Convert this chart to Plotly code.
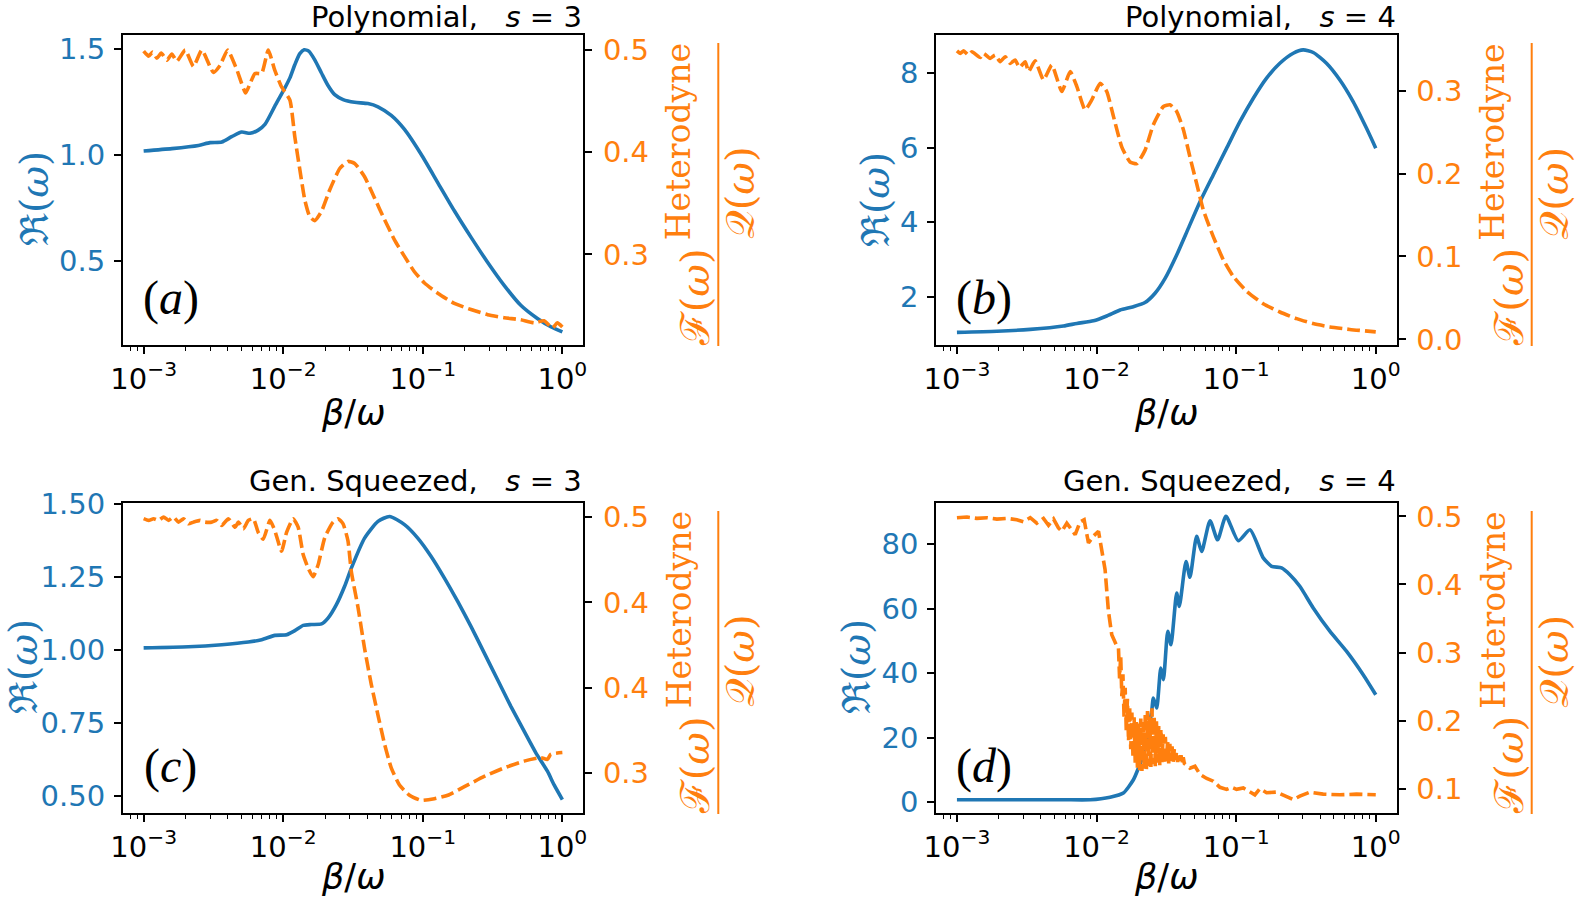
import numpy as np
import plotly.graph_objects as go

BLUE = "#1f77b4"
ORANGE = "#ff7f0e"
W, H = 1578, 898

# x values are stored as log10(beta/omega)

# (a) Polynomial, s = 3
a_blue_logx = [-3.000, -2.798, -2.607, -2.524, -2.440, -2.369, -2.298, -2.238, -2.179, -2.131,
               -2.060, -1.988, -1.952, -1.917, -1.881, -1.850, -1.817, -1.774, -1.726, -1.679,
               -1.631, -1.571, -1.488, -1.393, -1.321, -1.226, -1.131, -1.012, -0.893, -0.774,
               -0.655, -0.536, -0.417, -0.298, -0.179, -0.083, 0.000]
a_blue = [1.019, 1.030, 1.045, 1.058, 1.061, 1.086, 1.108, 1.102, 1.117, 1.144,
          1.230, 1.316, 1.363, 1.425, 1.477, 1.495, 1.489, 1.448, 1.386, 1.327,
          1.284, 1.261, 1.248, 1.242, 1.227, 1.186, 1.120, 1.003, 0.870, 0.737,
          0.613, 0.495, 0.386, 0.292, 0.230, 0.191, 0.167]
a_orange_logx = [-3.000, -2.964, -2.936, -2.905, -2.874, -2.833, -2.798, -2.762, -2.702, -2.643,
                 -2.583, -2.500, -2.452, -2.398, -2.333, -2.269, -2.238, -2.202, -2.155, -2.107,
                 -2.060, -2.012, -1.952, -1.917, -1.881, -1.845, -1.810, -1.774, -1.726, -1.667,
                 -1.595, -1.536, -1.488, -1.417, -1.345, -1.274, -1.202, -1.131, -1.060, -0.988,
                 -0.893, -0.774, -0.655, -0.536, -0.417, -0.298, -0.202, -0.131, -0.071, -0.036,
                 0.000]
a_orange = [0.499, 0.494, 0.498, 0.492, 0.497, 0.490, 0.496, 0.489, 0.500, 0.484,
            0.500, 0.478, 0.485, 0.500, 0.481, 0.458, 0.467, 0.477, 0.477, 0.500,
            0.480, 0.464, 0.451, 0.415, 0.383, 0.353, 0.337, 0.333, 0.342, 0.363,
            0.384, 0.391, 0.389, 0.376, 0.355, 0.334, 0.314, 0.298, 0.283, 0.272,
            0.262, 0.252, 0.246, 0.241, 0.238, 0.236, 0.233, 0.235, 0.228, 0.233,
            0.229]

# (b) Polynomial, s = 4
b_blue_logx = [-3.000, -2.714, -2.475, -2.237, -2.141, -2.022, -1.927, -1.831, -1.736, -1.653,
               -1.581, -1.509, -1.426, -1.342, -1.259, -1.164, -1.068, -0.973, -0.877, -0.782,
               -0.687, -0.591, -0.520, -0.448, -0.353, -0.257, -0.162, -0.067, 0.000]
b_blue = [1.04, 1.07, 1.12, 1.21, 1.28, 1.35, 1.48, 1.64, 1.73, 1.84,
          2.09, 2.49, 3.12, 3.84, 4.55, 5.27, 5.99, 6.70, 7.33, 7.87,
          8.27, 8.54, 8.63, 8.56, 8.27, 7.82, 7.24, 6.53, 5.99]
b_orange_logx = [-3.000, -2.976, -2.952, -2.917, -2.893, -2.833, -2.809, -2.762, -2.726, -2.690,
                 -2.654, -2.618, -2.583, -2.552, -2.511, -2.487, -2.440, -2.380, -2.320, -2.249,
                 -2.189, -2.141, -2.082, -2.034, -1.974, -1.927, -1.879, -1.819, -1.760, -1.712,
                 -1.653, -1.593, -1.521, -1.474, -1.426, -1.378, -1.331, -1.283, -1.235, -1.164,
                 -1.092, -1.021, -0.925, -0.806, -0.687, -0.567, -0.448, -0.329, -0.186, 0.000]
b_orange = [0.348, 0.345, 0.348, 0.343, 0.347, 0.340, 0.345, 0.339, 0.343, 0.335,
            0.341, 0.333, 0.337, 0.328, 0.335, 0.323, 0.336, 0.313, 0.331, 0.299,
            0.323, 0.305, 0.277, 0.289, 0.309, 0.299, 0.269, 0.232, 0.214, 0.212,
            0.228, 0.259, 0.281, 0.283, 0.275, 0.253, 0.220, 0.188, 0.156, 0.124,
            0.096, 0.076, 0.058, 0.043, 0.033, 0.025, 0.019, 0.015, 0.012, 0.009]

# (c) Gen. Squeezed, s = 3
c_blue_logx = [-3.000, -2.679, -2.440, -2.250, -2.155, -2.060, -1.976, -1.917, -1.857, -1.798,
               -1.726, -1.679, -1.619, -1.560, -1.512, -1.417, -1.321, -1.238, -1.131, -1.036,
               -0.940, -0.845, -0.750, -0.655, -0.560, -0.464, -0.369, -0.274, -0.190, -0.107,
               -0.060, 0.000]
c_blue = [1.006, 1.010, 1.017, 1.026, 1.034, 1.049, 1.051, 1.065, 1.083, 1.086,
          1.088, 1.108, 1.154, 1.217, 1.279, 1.382, 1.439, 1.456, 1.428, 1.382,
          1.319, 1.245, 1.165, 1.080, 0.989, 0.897, 0.806, 0.721, 0.647, 0.584,
          0.538, 0.487]
c_orange_logx = [-3.000, -2.964, -2.929, -2.893, -2.857, -2.821, -2.786, -2.750, -2.714, -2.679,
                 -2.643, -2.595, -2.560, -2.512, -2.476, -2.440, -2.393, -2.345, -2.321, -2.286,
                 -2.250, -2.214, -2.179, -2.143, -2.095, -2.060, -2.012, -1.976, -1.929, -1.893,
                 -1.857, -1.821, -1.786, -1.750, -1.702, -1.643, -1.607, -1.571, -1.536, -1.512,
                 -1.464, -1.417, -1.369, -1.321, -1.274, -1.226, -1.167, -1.095, -1.012, -0.917,
                 -0.821, -0.702, -0.560, -0.417, -0.274, -0.155, -0.107, -0.083, 0.000]
c_orange = [0.449, 0.448, 0.449, 0.448, 0.450, 0.448, 0.450, 0.447, 0.449, 0.446,
            0.447, 0.448, 0.447, 0.447, 0.448, 0.445, 0.449, 0.444, 0.447, 0.443,
            0.448, 0.449, 0.441, 0.437, 0.448, 0.442, 0.430, 0.441, 0.449, 0.444,
            0.428, 0.420, 0.415, 0.422, 0.438, 0.447, 0.449, 0.446, 0.436, 0.418,
            0.397, 0.373, 0.352, 0.334, 0.317, 0.303, 0.293, 0.287, 0.284, 0.285,
            0.287, 0.292, 0.298, 0.303, 0.307, 0.309, 0.308, 0.311, 0.312]

# (d) Gen. Squeezed, s = 4
d_blue_logx = [-3.000, -2.595, -2.237, -2.046, -1.903, -1.808, -1.736, -1.700, -1.664, -1.629,
               -1.605, -1.593, -1.569, -1.540, -1.521, -1.490, -1.467, -1.426, -1.407, -1.359,
               -1.331, -1.283, -1.247, -1.187, -1.133, -1.073, -0.985, -0.901, -0.806, -0.746,
               -0.675, -0.615, -0.544, -0.448, -0.329, -0.210, -0.090, 0.000]
d_blue = [0.8, 0.8, 0.8, 0.8, 1.6, 2.9, 7.0, 10.6, 14.8, 22.0,
          28.2, 32.3, 29.2, 41.6, 38.0, 53.0, 48.8, 64.8, 60.7, 74.6,
          69.7, 82.4, 77.7, 87.2, 81.3, 88.6, 81.0, 84.4, 75.7, 73.1,
          72.6, 70.5, 66.9, 60.2, 53.0, 46.8, 39.5, 33.3]
d_orange_logx = [-3.000, -2.928, -2.857, -2.785, -2.714, -2.642, -2.571, -2.523, -2.475, -2.428,
                 -2.380, -2.344, -2.308, -2.273, -2.249, -2.213, -2.177, -2.153, -2.118, -2.089,
                 -2.058, -2.022, -1.986, -1.963, -1.939, -1.915, -1.891, -1.860,
                 # dense oscillating stretch
                 -1.843, -1.835, -1.827, -1.819, -1.811, -1.803, -1.795, -1.787, -1.779, -1.771,
                 -1.763, -1.755, -1.747, -1.739, -1.731, -1.723, -1.715, -1.707, -1.699, -1.691,
                 -1.683, -1.675, -1.667, -1.659, -1.651, -1.643, -1.635, -1.627, -1.619, -1.611,
                 -1.603, -1.595, -1.587, -1.579, -1.571, -1.563, -1.555, -1.547, -1.539, -1.531,
                 -1.523, -1.515, -1.507, -1.499, -1.491, -1.483, -1.475, -1.467, -1.459, -1.451,
                 -1.443, -1.435, -1.427, -1.419, -1.411, -1.403, -1.395, -1.387, -1.379, -1.371,
                 # tail
                 -1.331, -1.295, -1.259, -1.211, -1.164, -1.116, -1.068, -1.032, -0.997, -0.949,
                 -0.901, -0.866, -0.830, -0.782, -0.710, -0.639, -0.591, -0.544, -0.472, -0.377,
                 -0.257, -0.138, 0.000]
d_orange = [0.498, 0.499, 0.497, 0.498, 0.496, 0.497, 0.495, 0.492, 0.498, 0.490,
            0.497, 0.487, 0.496, 0.483, 0.478, 0.490, 0.480, 0.473, 0.492, 0.495,
            0.461, 0.471, 0.478, 0.449, 0.422, 0.361, 0.326, 0.312,
            0.307, 0.262, 0.295, 0.236, 0.268, 0.205, 0.248, 0.184, 0.232, 0.170,
            0.221, 0.158, 0.212, 0.146, 0.205, 0.138, 0.200, 0.131, 0.196, 0.127,
            0.203, 0.126, 0.198, 0.129, 0.210, 0.127, 0.214, 0.133, 0.206, 0.130,
            0.218, 0.136, 0.205, 0.133, 0.199, 0.138, 0.192, 0.134, 0.188, 0.139,
            0.180, 0.136, 0.176, 0.140, 0.171, 0.137, 0.166, 0.141, 0.162, 0.138,
            0.158, 0.142, 0.154, 0.139, 0.152, 0.141, 0.149, 0.138, 0.146, 0.137,
            0.130, 0.133, 0.121, 0.115, 0.111, 0.102, 0.099, 0.102, 0.099, 0.101,
            0.096, 0.091, 0.100, 0.094, 0.095, 0.089, 0.084, 0.089, 0.095, 0.092,
            0.091, 0.092, 0.091]

# tick labels
x_ticks = [1e-3, 1e-2, 1e-1, 1e0]
x_ticktext = ["10<sup>\u22123</sup>", "10<sup>\u22122</sup>", "10<sup>\u22121</sup>", "10<sup>0</sup>"]
x_minor = [m * 10.0 ** e for e in range(-4, 0) for m in range(2, 10)]

a_left_ticks, a_left_text = [0.5, 1.0, 1.5], ["0.5", "1.0", "1.5"]
a_right_ticks, a_right_text = [0.3, 0.4, 0.5], ["0.3", "0.4", "0.5"]
b_left_ticks, b_left_text = [2, 4, 6, 8], ["2", "4", "6", "8"]
b_right_ticks, b_right_text = [0.0, 0.1, 0.2, 0.3], ["0.0", "0.1", "0.2", "0.3"]
c_left_ticks, c_left_text = [0.5, 0.75, 1.0, 1.25, 1.5], ["0.50", "0.75", "1.00", "1.25", "1.50"]
c_right_ticks, c_right_text = [0.30, 0.35, 0.40, 0.45], ["0.3", "0.4", "0.4", "0.5"]
d_left_ticks, d_left_text = [0, 20, 40, 60, 80], ["0", "20", "40", "60", "80"]
d_right_ticks, d_right_text = [0.1, 0.2, 0.3, 0.4, 0.5], ["0.1", "0.2", "0.3", "0.4", "0.5"]

titles = ["Polynomial,", "Polynomial,", "Gen. Squeezed,", "Gen. Squeezed,"]
s_values = ["3", "4", "3", "4"]
letters = ["a", "b", "c", "d"]

panels = [
    dict(box=(122.7, 583.3, 35, 345), blue=(a_blue_logx, a_blue), orange=(a_orange_logx, a_orange),
         yl=(0.105, 1.565), yr=(0.2113, 0.5147), lt=(a_left_ticks, a_left_text),
         rt=(a_right_ticks, a_right_text), ylab_x=34, title_y=17, xlab_y=413, spline=True),
    dict(box=(936.0, 1396.7, 35, 345), blue=(b_blue_logx, b_blue), orange=(b_orange_logx, b_orange),
         yl=(0.70, 9.03), yr=(-0.0068, 0.3672), lt=(b_left_ticks, b_left_text),
         rt=(b_right_ticks, b_right_text), ylab_x=875, title_y=17, xlab_y=413, spline=True),
    dict(box=(122.7, 583.3, 503, 813), blue=(c_blue_logx, c_blue), orange=(c_orange_logx, c_orange),
         yl=(0.441, 1.502), yr=(0.2766, 0.4582), lt=(c_left_ticks, c_left_text),
         rt=(c_right_ticks, c_right_text), ylab_x=23, title_y=481, xlab_y=877, spline=True),
    dict(box=(936.0, 1396.7, 503, 813), blue=(d_blue_logx, d_blue), orange=(d_orange_logx, d_orange),
         yl=(-3.3, 92.7), yr=(0.0643, 0.5196), lt=(d_left_ticks, d_left_text),
         rt=(d_right_ticks, d_right_text), ylab_x=856, title_y=481, xlab_y=877, spline=False),
]


def px(v):
    return v / W


def py(v):
    return 1 - v / H


TICKFONT = 29
fig = go.Figure()
layout = dict(width=W, height=H, margin=dict(l=0, r=0, t=0, b=0, autoexpand=False),
              paper_bgcolor="white", plot_bgcolor="white", showlegend=False)
annotations = []
shapes = []

for i, p in enumerate(panels):
    l, r, t, b = p["box"]
    xn = "" if i == 0 else str(i + 1)
    yl_n = "" if i == 0 else str(2 * i + 1)
    yr_n = str(2 * i + 2)

    bx, by = p["blue"]
    ox, oy = p["orange"]
    fig.add_trace(go.Scatter(x=np.power(10.0, bx), y=by, mode="lines",
                             line=dict(color=BLUE, width=3.6, shape="spline", smoothing=0.6),
                             xaxis="x" + xn, yaxis="y" + yl_n))
    oline = dict(color=ORANGE, width=3.6, dash="13px,5px")
    if p["spline"]:
        oline.update(shape="spline", smoothing=0.5)
    fig.add_trace(go.Scatter(x=np.power(10.0, ox), y=oy, mode="lines", line=oline,
                             xaxis="x" + xn, yaxis="y" + yr_n))

    layout["xaxis" + xn] = dict(
        type="log", domain=[px(l), px(r)], range=[-3.15, 0.15], anchor="y" + yl_n,
        automargin=False,
        tickmode="array", tickvals=x_ticks, ticktext=x_ticktext,
        ticks="outside", ticklen=7, tickwidth=1.5, tickcolor="black",
        minor=dict(tickmode="array", tickvals=x_minor, ticks="outside", ticklen=4,
                   tickwidth=1.2, tickcolor="black", showgrid=False),
        showline=True, linecolor="black", linewidth=1.6, mirror=True,
        showgrid=False, zeroline=False,
        tickfont=dict(family="DejaVu Sans", size=TICKFONT, color="black"))
    layout["yaxis" + yl_n] = dict(
        domain=[py(b), py(t)], range=list(p["yl"]), anchor="x" + xn, side="left",
        automargin=False,
        tickmode="array", tickvals=p["lt"][0], ticktext=p["lt"][1],
        ticks="outside", ticklen=7, tickwidth=1.5, tickcolor="black",
        showline=True, linecolor="black", linewidth=1.6, mirror=True,
        showgrid=False, zeroline=False, ticklabelstandoff=3,
        tickfont=dict(family="DejaVu Sans", size=TICKFONT, color=BLUE))
    layout["yaxis" + yr_n] = dict(
        overlaying="y" + yl_n, range=list(p["yr"]), anchor="x" + xn, side="right",
        automargin=False,
        tickmode="array", tickvals=p["rt"][0], ticktext=p["rt"][1],
        ticks="outside", ticklen=7, tickwidth=1.5, tickcolor="black",
        showline=True, linecolor="black", linewidth=1.6,
        showgrid=False, zeroline=False, ticklabelstandoff=5,
        tickfont=dict(family="DejaVu Sans", size=TICKFONT, color=ORANGE))

    # title, right aligned with the frame
    annotations.append(dict(
        x=px(r), y=py(p["title_y"]), xref="paper", yref="paper", xanchor="right",
        yanchor="middle", showarrow=False, borderpad=0,
        text=titles[i] + "\u00a0\u00a0\u00a0<i>s</i>\u00a0=\u00a0" + s_values[i],
        font=dict(family="DejaVu Sans", size=29, color="black")))
    # x label
    annotations.append(dict(
        x=px((l + r) / 2), y=py(p["xlab_y"]), xref="paper", yref="paper", xanchor="center",
        yanchor="middle", showarrow=False, borderpad=0, text="<i>\u03b2</i>/<i>\u03c9</i>",
        font=dict(family="DejaVu Sans", size=35, color="black")))
    # left y label
    annotations.append(dict(
        x=px(p["ylab_x"]), y=py((t + b) / 2 + 9), xref="paper", yref="paper",
        xanchor="center", yanchor="middle", showarrow=False, textangle=-90, borderpad=0,
        text="\u211c(<i>\u03c9</i>)", font=dict(family="DejaVu Serif", size=39, color=BLUE)))
    # panel letter
    annotations.append(dict(
        x=px(l + 48), y=py(b - 47), xref="paper", yref="paper", xanchor="center",
        yanchor="middle", showarrow=False, text="(<i>" + letters[i] + "</i>)",
        font=dict(family="Liberation Serif", size=48, color="black")))
    # right y label: fraction F(w)^Heterodyne / Q(w)
    annotations.append(dict(
        x=px(r + 112), y=py(b - 48), xref="paper", yref="paper", xanchor="center",
        yanchor="middle", showarrow=False, textangle=-90,
        text="\u2131(<i>\u03c9</i>)", font=dict(family="DejaVu Serif", size=40, color=ORANGE)))
    annotations.append(dict(
        x=px(r + 96), y=py(t + 107), xref="paper", yref="paper", xanchor="center",
        yanchor="middle", showarrow=False, textangle=-90,
        text="Heterodyne", font=dict(family="DejaVu Serif", size=33, color=ORANGE)))
    annotations.append(dict(
        x=px(r + 157), y=py((t + b) / 2 + 3), xref="paper", yref="paper", xanchor="center",
        yanchor="middle", showarrow=False, textangle=-90,
        text="\U0001d4ac(<i>\u03c9</i>)", font=dict(family="DejaVu Serif", size=40, color=ORANGE)))
    shapes.append(dict(type="line", xref="paper", yref="paper",
                       x0=px(r + 135), x1=px(r + 135), y0=py(t + 8), y1=py(b + 1),
                       line=dict(color=ORANGE, width=2)))

layout["annotations"] = annotations
layout["shapes"] = shapes
fig.update_layout(**layout)
# the page body has a default 8px margin; drop it so the figure fills the window
fig.write_html("out.html", config={"displayModeBar": False},
               post_script="document.body.style.margin='0px';")
